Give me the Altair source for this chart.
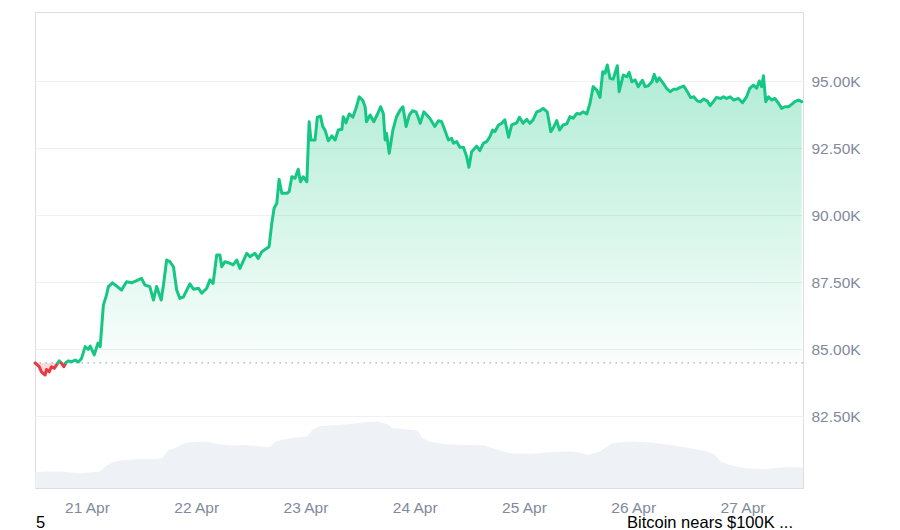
import json
import altair as alt
import pandas as pd

# ---- data (hours relative to 21 Apr 00:00) ----
hours = [-11.4,-10.5,-10.0,-9.2,-8.9,-8.3,-7.8,-7.2,-6.7,-6.1,
         -5.6,-5.1,-4.6,-4.1,-3.4,-2.6,-1.9,-1.2,-0.4,0.3,
         0.7,1.6,2.4,2.9,3.6,4.3,4.7,5.6,6.5,7.6,
         8.7,9.8,10.9,12.0,12.7,13.8,14.6,15.3,16.3,16.8,
         17.5,18.2,19.0,19.7,20.4,21.2,22.6,23.4,24.5,25.2,
         26.3,27.0,27.7,28.5,29.2,29.6,30.3,31.4,32.1,32.9,
         33.6,35.1,35.8,36.9,37.6,38.4,39.5,40.0,40.6,41.1,
         41.7,42.2,42.8,43.9,44.4,45.0,45.7,46.4,46.9,47.5,
         48.3,48.8,49.2,50.1,50.6,51.3,51.8,52.3,53.0,53.8,
         54.5,55.2,56.0,56.3,56.9,57.6,58.4,59.1,59.8,60.6,
         61.1,61.4,62.2,63.0,63.8,64.5,65.1,65.5,65.8,66.4,
         67.2,68.0,68.8,69.4,70.1,70.8,71.5,72.3,73.2,74.0,
         75.3,76.4,77.2,77.9,78.6,79.4,80.1,80.5,81.2,81.9,
         82.7,83.4,83.9,84.5,85.6,86.3,87.1,87.8,88.5,89.1,
         89.6,90.4,91.1,91.8,92.6,93.3,94.4,95.0,95.8,96.6,
         97.3,98.0,98.8,99.5,100.2,101.1,101.9,102.4,103.2,103.8,
         104.6,105.4,106.1,106.8,107.6,108.3,109.0,109.8,110.5,111.2,
         112.0,112.7,113.3,113.8,114.3,114.9,115.6,116.5,116.9,117.8,
         118.6,119.1,119.7,120.4,121.1,122.0,122.6,123.3,124.1,124.6,
         125.2,125.7,126.6,127.3,128.1,128.8,129.5,130.3,131.1,131.9,
         132.6,133.3,134.1,134.8,135.5,136.3,136.9,137.6,138.3,139.2,
         139.8,140.5,141.3,142.1,143.1,144.0,144.9,145.6,146.4,147.1,
         147.7,148.2,148.6,149.1,149.7,150.4,151.1,151.9,152.6,153.3,
         154.1,154.8,155.5,156.3,157.0]

prices = [84480,84340,84150,84030,84240,84150,84340,84280,84400,84560,
          84470,84340,84490,84560,84520,84590,84520,84650,85090,84990,
          85110,84780,85220,85090,86640,87020,87330,87470,87350,87200,
          87510,87470,87550,87640,87390,87330,86830,87330,86830,87390,
          88320,88260,88070,87200,86890,86950,87430,87230,87270,87080,
          87270,87580,87450,88510,88510,88070,88260,88200,88140,88320,
          88010,88570,88440,88570,88380,88630,88760,88820,89690,90250,
          90440,91330,90810,90810,90870,91430,91370,91710,91240,91430,
          91240,93480,92800,92800,93650,93690,93300,93170,92770,92950,
          92800,93170,93200,93670,93440,93770,93650,93980,94410,94270,
          94040,93480,93730,93480,93760,94040,93790,92800,93050,92300,
          93170,93670,93920,94040,93300,93730,93890,93850,93420,93850,
          93610,93300,93520,93480,93170,92800,92860,92680,92740,92530,
          92530,92180,91780,92360,92570,92400,92680,92740,92920,93170,
          93110,93360,93420,93550,92900,93360,93440,93650,93420,93570,
          93420,93550,93850,93890,93980,93850,93110,93240,93520,93170,
          93360,93400,93670,93610,93790,93770,93850,93770,94170,94790,
          94660,94390,95350,95290,95600,95100,95070,95570,94600,95220,
          95160,95320,94970,95040,94790,95030,94790,94820,94970,95250,
          94970,95120,94910,94730,94600,94690,94690,94760,94810,94600,
          94380,94410,94250,94230,94330,94250,94080,94230,94390,94350,
          94410,94350,94410,94290,94350,94190,94410,94730,94850,94730,
          95000,94790,95200,94230,94410,94290,94350,94170,93980,94040,
          94040,94130,94230,94290,94230]

vol_hours = [-11.4,-9.2,-5.9,-1.5,2.9,4.0,5.6,7.2,10.5,13.8,
             16.6,17.7,19.3,21.0,22.6,25.4,27.0,28.7,31.4,34.7,
             38.0,40.2,41.5,43.5,45.7,48.4,49.5,51.2,54.5,57.8,
             61.1,63.8,66.0,67.1,69.9,72.6,73.7,75.3,78.6,83.0,
             87.4,90.2,92.9,97.3,101.7,106.1,108.3,110.0,112.7,114.3,
             115.4,119.3,123.7,128.1,132.5,136.3,138.0,139.1,141.3,144.5,
             148.9,153.3,157.3]
volumes = [7.7,8.2,8.2,7.4,8.2,10.7,12.7,13.7,14.4,14.4,
           14.9,18.7,19.9,22.0,22.9,23.2,22.9,21.9,21.2,21.5,
           20.7,20.4,23.2,24.4,25.2,25.7,29.0,31.0,31.4,32.0,
           32.9,33.2,31.9,29.9,29.4,28.7,24.9,23.2,21.9,21.5,
           21.2,19.0,17.4,17.0,17.9,18.2,17.7,16.5,18.2,20.7,
           22.4,23.2,22.7,21.5,19.9,18.2,16.5,13.2,11.5,9.9,
           9.5,10.4,10.2]

y_ticks = [82500, 85000, 87500, 90000, 92500, 95000]
day_ticks = [0, 24, 48, 72, 96, 120, 144]
day_labels = ["21 Apr", "22 Apr", "23 Apr", "24 Apr", "25 Apr", "26 Apr", "27 Apr"]
footer_left = "5"
footer_right = "Bitcoin nears $100K ..."

x_domain = [-11.42, 157.29]
y_domain = [79815, 97575]
vol_domain = [0, 238]

GREEN = "#16c784"
RED = "#ea3943"
GRAY_TXT = "#808a9d"
FONT = "Liberation Sans"

base = prices[0]

# ---- split the series at baseline crossings so each segment gets one colour ----
rows = []
seg = 0
cur_side = None
for i, (h, p) in enumerate(zip(hours, prices)):
    side = "up" if p >= base else "down"
    if cur_side is None:
        cur_side = side
    elif side != cur_side:
        h0, p0 = hours[i - 1], prices[i - 1]
        hc = h0 + (base - p0) / (p - p0) * (h - h0) if p != p0 else h0
        rows.append(dict(h=hc, p=base, seg=seg, side=cur_side))
        seg += 1
        cur_side = side
        rows.append(dict(h=hc, p=base, seg=seg, side=cur_side))
    rows.append(dict(h=h, p=p, seg=seg, side=cur_side))

df = pd.DataFrame(rows)
df["up"] = df["p"].clip(lower=base)
df["down"] = df["p"].clip(upper=base)
df["base"] = base

vol_df = pd.DataFrame({"h": vol_hours, "vol": volumes})

label_expr = "%s[round(datum.value / 24)]" % json.dumps(day_labels)

x_scale = alt.Scale(domain=x_domain, nice=False, zero=False)
x_axis = alt.Axis(values=day_ticks, labelExpr=label_expr, grid=False, domain=False,
                  ticks=False, tickSize=0, labelPadding=12, labelFontSize=15.5,
                  labelColor=GRAY_TXT, labelFont=FONT, title=None,
                  labelFlush=False, labelOverlap=False)
y_scale = alt.Scale(domain=y_domain, nice=False, zero=False)
y_axis = alt.Axis(orient="right", values=y_ticks, grid=True,
                  gridColor="#eef0f3", gridWidth=1, domain=False, ticks=False,
                  tickSize=0, labelPadding=8, labelFontSize=15.5, labelColor=GRAY_TXT,
                  labelFont=FONT, title=None,
                  labelExpr="format(datum.value / 1000, '.2f') + 'K'")

X = alt.X("h:Q", scale=x_scale, axis=x_axis)

volume = alt.Chart(vol_df).mark_area(color="#eef1f5", interpolate="linear").encode(
    x=X,
    y=alt.Y("vol:Q", scale=alt.Scale(domain=vol_domain, nice=False), axis=None),
)

green_grad = alt.Gradient(
    gradient="linear",
    stops=[alt.GradientStop(color="rgba(22,199,132,0.34)", offset=0),
           alt.GradientStop(color="rgba(22,199,132,0.02)", offset=1)],
    x1=1, x2=1, y1=0, y2=1,
)

green_area = alt.Chart(df).mark_area(color=green_grad).encode(
    x=X, y=alt.Y("up:Q", scale=y_scale, axis=y_axis), y2="base:Q",
)
red_area = alt.Chart(df).mark_area(color="rgba(234,57,67,0.18)").encode(
    x=X, y=alt.Y("down:Q", scale=y_scale, axis=y_axis), y2="base:Q",
)
baseline = alt.Chart(pd.DataFrame({"base": [base]})).mark_rule(
    color="#a7adbd", strokeDash=[1.5, 4.5], strokeWidth=1.3
).encode(y=alt.Y("base:Q", scale=y_scale, axis=y_axis))

line = alt.Chart(df).mark_line(strokeWidth=3, strokeJoin="round", strokeCap="round").encode(
    x=X,
    y=alt.Y("p:Q", scale=y_scale, axis=y_axis),
    detail="seg:N",
    color=alt.Color("side:N", scale=alt.Scale(domain=["up", "down"], range=[GREEN, RED]),
                    legend=None),
)

price_layer = alt.layer(green_area, red_area, baseline, line)

foot_l = alt.Chart(pd.DataFrame({"t": [footer_left]})).mark_text(
    align="left", baseline="alphabetic", fontSize=16.5, font=FONT, color="#000000"
).encode(text="t:N", x=alt.value(1), y=alt.value(516))
foot_r = alt.Chart(pd.DataFrame({"t": [footer_right]})).mark_text(
    align="left", baseline="alphabetic", fontSize=16.5, font=FONT, color="#000000"
).encode(text="t:N", x=alt.value(592), y=alt.value(516))

chart = alt.layer(volume, price_layer, foot_l, foot_r).resolve_scale(
    y="independent"
).properties(
    width=768, height=476,
    padding={"left": 25, "top": 4, "right": 0, "bottom": 0},
).configure_view(stroke="#e8eaee", strokeWidth=1).configure(background="white")

chart.save("out.html", embed_options={"renderer": "svg", "actions": False})
